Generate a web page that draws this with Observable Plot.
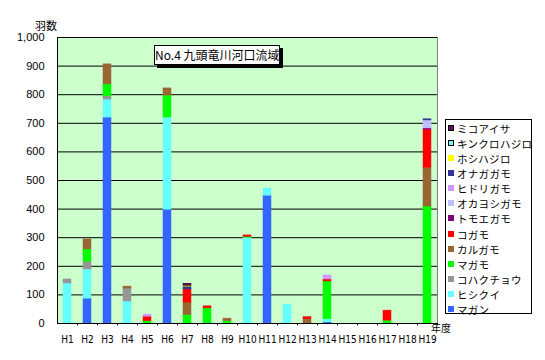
<!DOCTYPE html>
<html>
<head>
<meta charset="utf-8">
<script src="https://cdn.jsdelivr.net/npm/d3@7"></script>
<script src="https://cdn.jsdelivr.net/npm/@observablehq/plot@0.6"></script>
<style>
  body { margin: 0; background: #fff; }
  #wrap { position: relative; width: 545px; height: 360px; font-family: "Liberation Sans", "Noto Sans CJK JP", sans-serif; }
  #chart svg { display: block; }
  .ov { position: absolute; font-size: 11px; color: #000; white-space: nowrap; line-height: 12px; }
  #title { left: 154px; top: 45px; width: 124px; height: 18px; background: #fff; border: 1px solid #000; box-shadow: 3px 3px 0 #000; font-size: 12px; line-height: 18px; text-align: center; font-family: "Noto Sans CJK JP", sans-serif; }
  #legend { left: 445px; top: 119px; width: 85px; height: 193px; border: 1px solid #000; background: #fff; }
  .item { position: absolute; left: 2px; height: 15px; font-size: 10.5px; line-height: 15px; font-family: "Noto Sans CJK JP", sans-serif; }
  .sw { position: absolute; left: 0; top: 4px; width: 4px; height: 4px; border: 1px solid; }
  .lab { position: absolute; left: 9px; top: 0; letter-spacing: 0.3px; }
</style>
</head>
<body>
<div id="wrap">
  <div id="chart"></div>
  <div class="ov" style="left:35px; top:19px; font-family:'Noto Sans CJK JP',sans-serif;">羽数</div>
  <div class="ov" style="left:431px; top:322px; font-size:10px; font-family:'Noto Sans CJK JP',sans-serif;">年度</div>
  <div class="ov" id="title">No.4 九頭竜川河口流域</div>
  <div class="ov" id="legend"></div>
</div>
<script>
const years = ["H1","H2","H3","H4","H5","H6","H7","H8","H9","H10","H11","H12","H13","H14","H15","H16","H17","H18","H19"];
const species = ["マガン","ヒシクイ","コハクチョウ","マガモ","カルガモ","コガモ","トモエガモ","オカヨシガモ","ヒドリガモ","オナガガモ","ホシハジロ","キンクロハジロ","ミコアイサ"];
const colors = ["#3366FF","#66FFFF","#969696","#00FF00","#996633","#FF0000","#800080","#C0C0FF","#CC99FF","#333399","#FFFF00","#66FFFF","#660066"];
const yTicks = [0,100,200,300,400,500,600,700,800,900,1000];

//                 H1  H2  H3  H4  H5  H6  H7  H8  H9 H10 H11 H12 H13 H14 H15 H16 H17 H18 H19
const magan      = [  0, 87,720,  0,  0,398,  0,  0,  0,  0,447,  0,  0,  4,  0,  0,  0,  0,  0];
const hishikui   = [140,102, 63, 77,  0,322,  0,  0,  0,300, 25, 66,  0, 11,  0,  0,  0,  0,  0];
const kohakucho  = [ 14, 27, 11, 45,  0,  0,  0,  0,  0,  0,  0,  0,  0,  0,  0,  0,  0,  0,  0];
const magamo     = [  0, 43, 42,  0,  8, 77, 29, 53,  8,  3,  0,  0,  0,132,  0,  0, 10,  0,409];
const karugamo   = [  0, 35, 70,  7,  0, 25, 44,  0,  9,  0,  0,  0, 15,  0,  0,  0,  0,  0,136];
const kogamo     = [  0,  0,  0,  0, 16,  0, 46,  7,  0,  5,  0,  0,  7,  7,  0,  0, 35,  0,133];
const tomoegamo  = [  0,  0,  0,  0,  0,  0,  0,  0,  0,  0,  0,  0,  0,  0,  0,  0,  0,  0,  4];
const okayoshi   = [  0,  0,  0,  0,  0,  0,  0,  0,  0,  0,  0,  0,  0,  0,  0,  0,  0,  0, 28];
const hidorigamo = [  0,  0,  0,  0,  7,  0,  0,  0,  0,  0,  0,  0,  0, 14,  0,  0,  0,  0,  0];
const onagagamo  = [  0,  0,  0,  0,  0,  0, 10,  0,  0,  0,  0,  0,  0,  0,  0,  0,  0,  0,  4];
const hoshihajiro= [  0,  0,  0,  0,  0,  0,  3,  0,  0,  0,  0,  0,  0,  0,  0,  0,  0,  0,  0];
const kinkuro    = [  0,  0,  0,  0,  0,  0,  0,  0,  0,  0,  0,  0,  0,  0,  0,  0,  0,  0,  0];
const mikoaisa   = [  0,  0,  0,  0,  0,  0,  7,  0,  0,  0,  0,  0,  0,  0,  0,  0,  0,  0,  0];

const series = [magan, hishikui, kohakucho, magamo, karugamo, kogamo, tomoegamo, okayoshi, hidorigamo, onagagamo, hoshihajiro, kinkuro, mikoaisa];
const table = [];
species.forEach((s, i) => years.forEach((y, j) => {
  if (series[i][j] > 0) table.push({year: y, species: s, value: series[i][j]});
}));
const colorOf = Object.fromEntries(species.map((s, i) => [s, colors[i]]));

const chart = Plot.plot({
  width: 545, height: 360,
  marginLeft: 57, marginRight: 108, marginTop: 37, marginBottom: 37,
  style: {fontFamily: "'Liberation Sans', 'Noto Sans CJK JP', sans-serif", fontSize: "11px", background: "transparent", color: "#000"},
  x: {domain: years, paddingInner: 0.6, paddingOuter: 0.3, axis: null},
  y: {domain: [0, 1000], axis: null},
  color: {domain: species, range: colors},
  marks: [
    Plot.frame({fill: "#CCFFCC", stroke: "#808080"}),
    Plot.gridY(yTicks, {stroke: "#000", strokeOpacity: 1, strokeWidth: 1}),
    Plot.barY(table, {x: "year", y: "value", fill: "species",
      stroke: d => d.species === "ミコアイサ" ? "#000000" : colorOf[d.species], strokeWidth: 0.5}),
    Plot.ruleY([0], {stroke: "#000"}),
    Plot.ruleX([years[0]], {dx: -10, stroke: "#000"}),
    Plot.ruleX(years, {x: d => d, dx: 10, y1: 0, y2: -8, stroke: "#000"}),
    Plot.axisY(yTicks, {tickSize: 0, tickPadding: 13, tickFormat: d3.format(","), label: null, fontSize: 11}),
    Plot.axisX({tickSize: 0, tickPadding: 12, label: null, fontSize: 10,
      fontFamily: "'Liberation Sans Narrow', 'DejaVu Sans Condensed', 'Liberation Sans', sans-serif"})
  ]
});
document.getElementById("chart").appendChild(chart);

const legend = document.getElementById("legend");
species.slice().reverse().forEach((s, k) => {
  const it = document.createElement("div");
  it.className = "item";
  it.style.top = (1 + k * 15.08) + "px";
  const sw = document.createElement("span");
  sw.className = "sw";
  sw.style.background = colorOf[s];
  sw.style.borderColor = (s === "ミコアイサ" || s === "キンクロハジロ") ? "#000" : colorOf[s];
  const lab = document.createElement("span");
  lab.className = "lab";
  lab.textContent = s;
  it.appendChild(sw); it.appendChild(lab);
  legend.appendChild(it);
});
</script>
</body>
</html>
